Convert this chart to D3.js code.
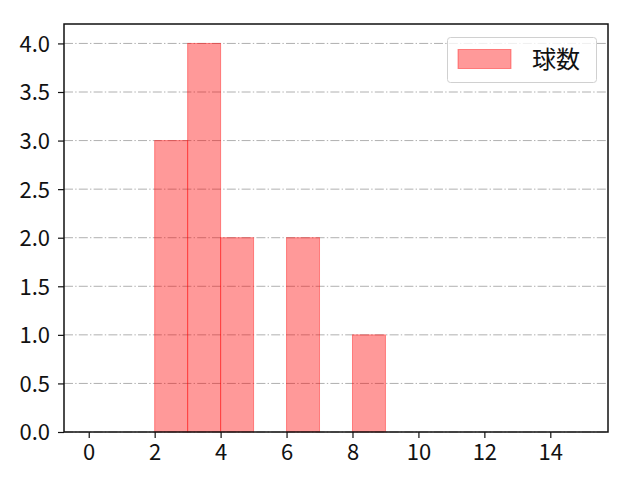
<!DOCTYPE html>
<html><head><meta charset="utf-8">
<script src="https://cdn.jsdelivr.net/npm/d3@7"></script>
<style>body{margin:0;background:#fff}</style>
</head><body>
<svg id="c" width="640" height="480"></svg>
<script>
const binStarts = [2, 3, 4, 6, 8];
const binWidths = [1, 1, 1, 1, 1];
const counts = [3, 4, 2, 2, 1];
const xTicks = [0, 2, 4, 6, 8, 10, 12, 14];
const yTicks = [0, 0.5, 1, 1.5, 2, 2.5, 3, 3.5, 4];
const seriesName = "球数";

const svg = d3.select("#c");
const L = 64, R = 608, T = 24, B = 432;
const font = "'Noto Sans CJK JP', sans-serif";
const x = d3.scaleLinear().domain([-0.75, 15.75]).range([L, R]);
const y = d3.scaleLinear().domain([0, 4.2]).range([B, T]);

svg.append("rect").attr("width", 640).attr("height", 480).attr("fill", "#fff");

// grid
svg.append("g").selectAll("line").data(yTicks).join("line")
  .attr("x1", L).attr("x2", R)
  .attr("y1", d => y(d)).attr("y2", d => y(d))
  .attr("stroke", "#b0b0b0").attr("stroke-width", 1)
  .attr("stroke-dasharray", "9,2.2,1.4,2.2");

// bars
svg.append("g").selectAll("rect").data(counts).join("rect")
  .attr("x", (d, i) => x(binStarts[i]))
  .attr("width", (d, i) => x(binStarts[i] + binWidths[i]) - x(binStarts[i]))
  .attr("y", d => y(d))
  .attr("height", d => B - y(d))
  .attr("fill", "rgba(255,0,0,0.4)")
  .attr("stroke", "rgba(255,0,0,0.4)")
  .attr("stroke-width", 1);

// axes
const xa = svg.append("g").attr("transform", `translate(0,${B})`)
  .call(d3.axisBottom(x).tickValues(xTicks).tickSize(6).tickPadding(6).tickFormat(d3.format("d")));
const ya = svg.append("g").attr("transform", `translate(${L},0)`)
  .call(d3.axisLeft(y).tickValues(yTicks).tickSize(6).tickPadding(8).tickFormat(d3.format(".1f")));
[xa, ya].forEach(a => {
  a.select(".domain").remove();
  a.selectAll("line").attr("stroke", "#111").attr("stroke-width", 1.2);
  a.selectAll("text").attr("font-family", font).attr("font-size", 22).attr("fill", "#111");
});
ya.selectAll("text").attr("dy", "0.36em");

// frame
svg.append("rect").attr("x", L).attr("y", T).attr("width", R - L).attr("height", B - T)
  .attr("fill", "none").attr("stroke", "#111").attr("stroke-width", 1.5);

// legend
const lg = svg.append("g");
lg.append("rect").attr("x", 447.5).attr("y", 37.5).attr("width", 149).attr("height", 45)
  .attr("rx", 3).attr("fill", "rgba(255,255,255,0.8)").attr("stroke", "#d0d0d0");
lg.append("rect").attr("x", 458).attr("y", 49.5).attr("width", 53).attr("height", 19)
  .attr("fill", "rgba(255,0,0,0.4)").attr("stroke", "rgba(255,0,0,0.4)");
lg.append("text").attr("x", 532).attr("y", 67.5).text(seriesName)
  .attr("font-family", font).attr("font-size", 24).attr("fill", "#111");
</script>
</body></html>
